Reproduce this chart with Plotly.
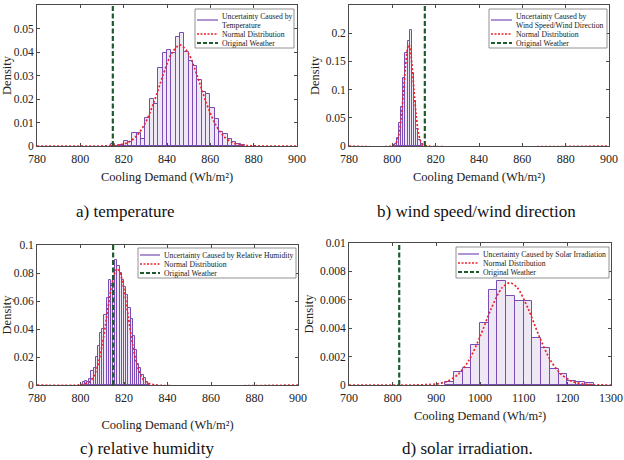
import plotly.graph_objects as go

# ---------------- data ----------------
original_weather = 815

# a) temperature (bin width 2)
temp_bin_width = 2
temp_bin_start = [814, 816, 818, 820, 822, 824, 826, 828, 830, 832, 834, 836, 838, 840, 842,
                  844, 846, 848, 850, 852, 854, 856, 858, 860, 862, 864, 866, 868, 870, 872, 874]
temp_density = [0.001, 0.0, 0.0005, 0.002, 0.0015, 0.0055, 0.0055, 0.003, 0.012, 0.020, 0.018,
                0.033, 0.0395, 0.041, 0.0395, 0.0465, 0.048, 0.040, 0.036, 0.034, 0.028, 0.023,
                0.022, 0.016, 0.0115, 0.006, 0.005, 0.003, 0.0015, 0.001, 0.0005]
temp_norm_x = [780, 810, 818, 822, 826, 830, 834, 838, 842, 846, 850, 854, 858, 862, 866, 870, 874, 878, 900]
temp_norm_y = [0, 0.00002, 0.00046, 0.0015, 0.0043, 0.0098, 0.0187, 0.0297, 0.0392, 0.043,
               0.0392, 0.0297, 0.0187, 0.0098, 0.0043, 0.0015, 0.00046, 0.0001, 0]

# b) wind speed / wind direction (bin width 1)
wind_bin_width = 1
wind_bin_start = [801, 802, 803, 804, 805, 806, 807, 808, 809, 810, 811, 812, 813]
wind_density = [0.003, 0.015, 0.040, 0.070, 0.120, 0.165, 0.187, 0.205, 0.130, 0.080, 0.030, 0.010, 0.003]
wind_norm_x = [780, 800, 802, 803, 804, 805, 806, 807, 807.6, 808, 809, 810, 811, 812, 813, 814, 816, 900]
wind_norm_y = [0, 0.00046, 0.007, 0.020, 0.047, 0.0896, 0.138, 0.173, 0.18, 0.177, 0.147, 0.099,
               0.0545, 0.0244, 0.0089, 0.0026, 0.0001, 0]

# c) relative humidity (bin width 1)
rh_bin_width = 1
rh_bin_start = list(range(801, 832))
rh_density = [0.002, 0.003, 0.002, 0.004, 0.010, 0.012, 0.020, 0.028, 0.037, 0.040, 0.050, 0.062,
              0.075, 0.072, 0.078, 0.089, 0.085, 0.080, 0.075, 0.070, 0.064, 0.055, 0.047, 0.035,
              0.025, 0.015, 0.012, 0.007, 0.005, 0.002, 0.001]
rh_norm_x = [780, 800, 804, 806, 808, 810, 812, 814, 816, 817, 818, 820, 822, 824, 826, 828, 830, 834, 900]
rh_norm_y = [0, 0.00016, 0.0021, 0.006, 0.0143, 0.0287, 0.0483, 0.0683, 0.0812, 0.083, 0.0812,
             0.0683, 0.0483, 0.0287, 0.0143, 0.006, 0.0021, 0.00016, 0]

# d) solar irradiation (bin width 20)
solar_bin_width = 20
solar_bin_start = [920, 940, 960, 980, 1000, 1020, 1040, 1060, 1080, 1100, 1120, 1140, 1160, 1180, 1200, 1220, 1240]
solar_density = [0.0002, 0.0009, 0.0012, 0.0028, 0.0044, 0.0067, 0.0073, 0.0063, 0.0059, 0.0059,
                 0.0033, 0.0026, 0.0011, 0.00075, 0.0003, 0.0002, 0.00015]
solar_norm_x = [700, 850, 900, 925, 950, 975, 1000, 1025, 1050, 1068, 1085, 1110, 1135, 1160, 1185, 1210, 1235, 1260, 1300]
solar_norm_y = [0, 0.000003, 0.000072, 0.00026, 0.00075, 0.00176, 0.0034, 0.00533, 0.00683, 0.0072,
                0.00687, 0.0054, 0.00347, 0.00181, 0.00077, 0.00027, 0.000077, 0.000018, 0]

hist_labels = [["Uncertainty Caused by", "Temperature"],
               ["Uncertainty Caused by", "Wind Speed/Wind Direction"],
               ["Uncertainty Caused by Relative Humidity"],
               ["Uncertainty Caused by Solar Irradiation"]]
norm_label = "Normal Distribution"
orig_label = "Original Weather"
captions = ["a) temperature", "b) wind speed/wind direction", "c) relative humidity", "d) solar irradiation."]
x_title = "Cooling Demand (Wh/m²)"
y_title = "Density"

x_ranges = [[780, 900], [780, 900], [780, 900], [700, 1300]]
x_dticks = [20, 20, 20, 100]
y_tickvals = [[0, 0.01, 0.02, 0.03, 0.04, 0.05, 0.06],
              [0, 0.05, 0.1, 0.15, 0.2, 0.25],
              [0, 0.02, 0.04, 0.06, 0.08, 0.1],
              [0, 0.002, 0.004, 0.006, 0.008, 0.01]]
y_ticktext = [["0", "0.01", "0.02", "0.03", "0.04", "0.05", "0.06"],
              ["0", "0.05", "0.1", "0.15", "0.2", "0.25"],
              ["0", "0.02", "0.04", "0.06", "0.08", "0.1"],
              ["0", "0.002", "0.004", "0.006", "0.008", "0.01"]]

panels = [
    (temp_bin_start, temp_density, temp_bin_width, temp_norm_x, temp_norm_y),
    (wind_bin_start, wind_density, wind_bin_width, wind_norm_x, wind_norm_y),
    (rh_bin_start, rh_density, rh_bin_width, rh_norm_x, rh_norm_y),
    (solar_bin_start, solar_density, solar_bin_width, solar_norm_x, solar_norm_y),
]

# ---------------- layout helpers (pixels) ----------------
W, H = 624, 460
def fx(p):
    return p / W
def fy(p):
    return 1 - p / H

# plot boxes: left, right, top, bottom in pixels
boxes = [(37, 297, 5, 146), (349, 609, 5, 146), (37, 298, 245, 385), (349, 611, 243, 385)]
xtitle_standoff = [6, 6, 15, 6]
caption_pos = [(125, 211), (477, 211), (147, 448), (467, 448)]
# legend boxes: left, top, right, bottom ; sample x0, x1 ; text x ; rows
legend_specs = [
    dict(box=(195, 9, 294, 48), sx=(197, 218), tx=220, rows=[(20, [16.5, 25]), (34, [34]), (43, [43])]),
    dict(box=(489, 9, 607, 48), sx=(491, 512), tx=514, rows=[(20, [16.5, 25]), (34, [34]), (43, [43])]),
    dict(box=(138, 248, 296, 278), sx=(140, 160), tx=162, rows=[(255, [255]), (264, [264]), (273, [273])]),
    dict(box=(456, 247, 609, 278), sx=(458, 479), tx=481, rows=[(254, [254]), (263, [263]), (272, [272])]),
]

PURPLE = "#7A4DB5"
FILL = "rgba(122,77,181,0.13)"
RED = "#EE2229"
GREEN = "#1E5C2C"
SERIF = "Liberation Serif"
AX = "#4a4a4a"

fig = go.Figure()
shapes = []
annotations = []

for i, (bs, dens, bw, nx, ny) in enumerate(panels):
    k = "" if i == 0 else str(i + 1)
    xa, ya = "x" + k, "y" + k
    ytop = y_tickvals[i][-1]
    fig.add_trace(go.Bar(x=[s + bw / 2 for s in bs], y=dens, width=bw,
                         marker=dict(color=FILL, line=dict(color=PURPLE, width=1)),
                         xaxis=xa, yaxis=ya, showlegend=False))
    fig.add_trace(go.Scatter(x=nx, y=ny, mode="lines",
                             line=dict(color=RED, width=1.7, dash="2px,2px", shape="spline", smoothing=0.8),
                             xaxis=xa, yaxis=ya, showlegend=False))
    fig.add_trace(go.Scatter(x=[original_weather, original_weather], y=[0, ytop], mode="lines",
                             line=dict(color=GREEN, width=2.2, dash="5px,2.5px"),
                             xaxis=xa, yaxis=ya, showlegend=False))

    l, r, t, b = boxes[i]
    axis_common = dict(showline=True, linecolor=AX, linewidth=0.8, mirror="ticks",
                       ticks="inside", ticklen=3, tickcolor=AX, tickwidth=0.8,
                       showgrid=False, zeroline=False, automargin=False)
    fig.update_layout(**{
        "xaxis" + k: dict(axis_common, domain=[fx(l), fx(r)], anchor=ya, range=x_ranges[i],
                          dtick=x_dticks[i], tick0=x_ranges[i][0], ticklabelstandoff=2,
                          tickfont=dict(family=SERIF, size=12, color="#222"),
                          title=dict(text=x_title,
                                     font=dict(family=SERIF, size=12.5, color="#222"),
                                     standoff=xtitle_standoff[i])),
        "yaxis" + k: dict(axis_common, domain=[fy(b), fy(t)], anchor=xa, range=[0, ytop],
                          tickvals=y_tickvals[i], ticktext=y_ticktext[i],
                          tickfont=dict(family=SERIF, size=11.5, color="#222"),
                          title=dict(text=y_title, font=dict(family=SERIF, size=12.5, color="#222"),
                                     standoff=3)),
    })

    # manual legend
    spec = legend_specs[i]
    bx0, by0, bx1, by1 = spec["box"]
    shapes.append(dict(type="rect", xref="paper", yref="paper", x0=fx(bx0), x1=fx(bx1),
                       y0=fy(by1), y1=fy(by0), line=dict(color="#777", width=0.8), fillcolor="white",
                       layer="above"))
    styles = [dict(color=PURPLE, width=1.2, dash="solid"),
              dict(color=RED, width=1.4, dash="2px,1.5px"),
              dict(color=GREEN, width=1.8, dash="4px,2px")]
    texts = [hist_labels[i], [norm_label], [orig_label]]
    for (sy, tys), st, tx_lines in zip(spec["rows"], styles, texts):
        shapes.append(dict(type="line", xref="paper", yref="paper", x0=fx(spec["sx"][0]), x1=fx(spec["sx"][1]),
                           y0=fy(sy), y1=fy(sy), line=st, layer="above"))
        for ty, txt in zip(tys, tx_lines):
            annotations.append(dict(text=txt, xref="paper", yref="paper", x=fx(spec["tx"]), y=fy(ty),
                                    xanchor="left", yanchor="middle", showarrow=False,
                                    font=dict(family=SERIF, size=7.7, color="#222")))

    cx, cy = caption_pos[i]
    annotations.append(dict(text=captions[i], xref="paper", yref="paper", x=fx(cx), y=fy(cy),
                            xanchor="center", yanchor="middle", showarrow=False,
                            font=dict(family=SERIF, size=17, color="#111")))

fig.update_layout(width=W, height=H, margin=dict(l=0, r=0, t=0, b=0),
                  paper_bgcolor="white", plot_bgcolor="white", barmode="overlay", bargap=0,
                  shapes=shapes, annotations=annotations, showlegend=False)

fig.write_html("out.html")
